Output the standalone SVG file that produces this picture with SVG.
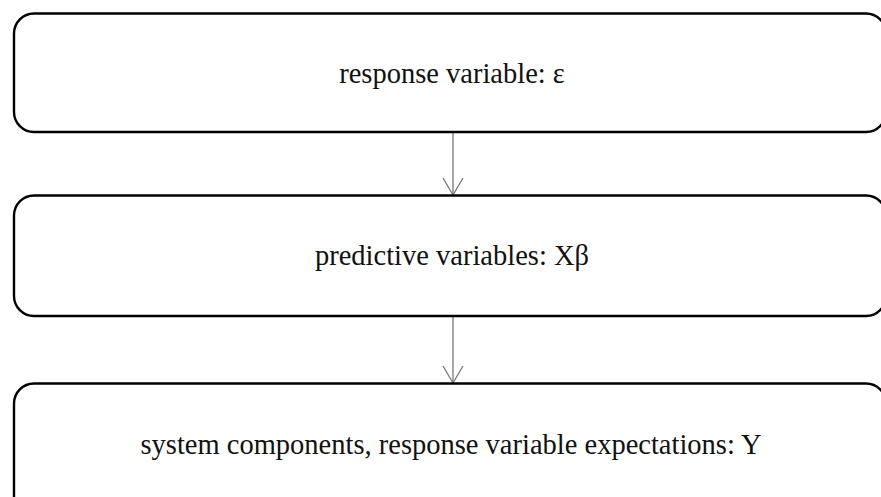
<svg xmlns="http://www.w3.org/2000/svg" width="881" height="497" viewBox="0 0 881 497">
<defs>
<style>
.box{fill:#fff;stroke:#000;stroke-width:2.4}
.lbl{font-family:"Liberation Serif","Times New Roman",serif;font-size:28.5px;fill:#111;text-anchor:middle}
.conn{stroke:#777;stroke-width:1.3;fill:none}
</style>
<marker id="arr" markerWidth="24" markerHeight="24" refX="20" refY="12" orient="auto" markerUnits="userSpaceOnUse">
<path d="M3,2 L20,12 L3,22" fill="none" stroke="#777" stroke-width="1.3"/>
</marker>
</defs>
<rect width="881" height="497" fill="#fff"/>
<g id="connectors">
<line class="conn" x1="453" y1="132" x2="453" y2="195" marker-end="url(#arr)"/>
<line class="conn" x1="453" y1="316" x2="453" y2="383" marker-end="url(#arr)"/>
</g>
<g id="node1">
<rect class="box" x="14" y="13.5" width="872" height="118.5" rx="20" ry="20"/>
<text class="lbl" x="452" y="83">response variable: ε</text>
</g>
<g id="node2">
<rect class="box" x="14" y="195.5" width="872" height="120.5" rx="20" ry="20"/>
<text class="lbl" x="452" y="265">predictive variables: Xβ</text>
</g>
<g id="node3">
<rect class="box" x="14" y="383.5" width="872" height="140" rx="20" ry="20"/>
<text class="lbl" x="451" y="454">system components, response variable expectations: Y</text>
</g>
</svg>
